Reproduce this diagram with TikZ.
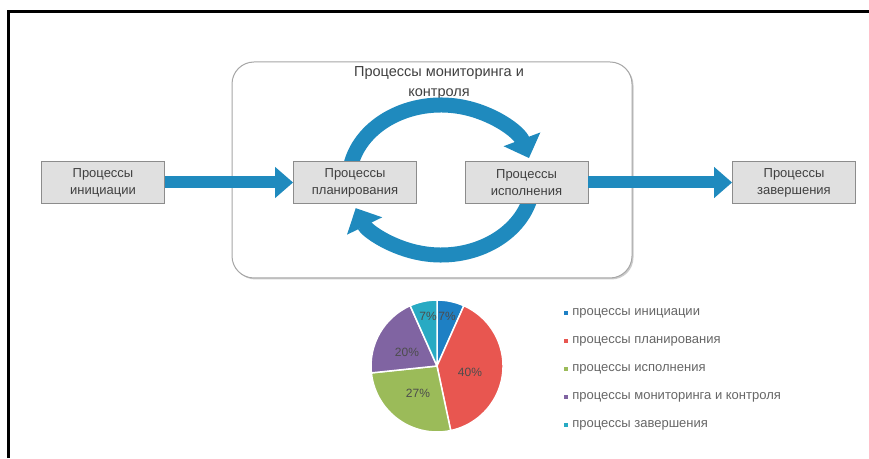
\documentclass[tikz,border=0pt]{standalone}
\usepackage{fontspec}
\setmainfont{Liberation Sans}
\usetikzlibrary{arrows.meta,calc,positioning}

\definecolor{flowblue}{RGB}{31,138,190}
\definecolor{pieblue}{RGB}{30,128,196}
\definecolor{piered}{RGB}{232,86,80}
\definecolor{piegreen}{RGB}{155,187,89}
\definecolor{piepurple}{RGB}{128,100,162}
\definecolor{piecyan}{RGB}{40,170,195}

\begin{document}
\begin{tikzpicture}[x=1pt,y=1pt,
	procbox/.style={draw=black!45, fill=black!12, line width=0.8pt, minimum width=123pt, minimum height=42pt, inner sep=0pt, align=center, text=black!75, font=\fontsize{13}{17}\selectfont},
	flowarrow/.style={flowblue, line width=12pt, -{Triangle[width=30pt,length=18pt]}},
	looparrow/.style={flowblue, line width=15pt, -{Triangle[width=38pt,length=20pt]}},
	slice/.style={draw=white, line width=1.5pt},
	pielabel/.style={text=black!70, font=\fontsize{12}{14}\selectfont},
	legbullet/.style={minimum size=4pt, inner sep=0pt},
	legtext/.style={text=black!60, font=\fontsize{13}{15}\selectfont, inner sep=0pt}
	]
			%%%%% START %%%%%
			\useasboundingbox (0,0) rectangle (869,458);
			\fill[white] (0,0) rectangle (869,458);
			
			% frame
			\draw[line width=3pt] (8.5,0) -- (8.5,446.5) -- (869,446.5);
			
			% monitoring block
			\fill[black!20, rounded corners=22pt] (233.5,178.5) rectangle (633.5,394.5);
			\draw[black!35, fill=white, line width=1pt, rounded corners=22pt] (232,180) rectangle (632,396);
			\node[align=center, text=black!75, font=\fontsize{14.5}{20}\selectfont] (title) at (439,375) {Процессы мониторинга и\\контроля};
			
			\coordinate (loopc) at (441,278);
			\draw[looparrow] ($(loopc)+(168:92 and 75)$) arc[start angle=168, end angle=17, x radius=92, y radius=75];
			\draw[looparrow] ($(loopc)+(-12:92 and 75)$) arc[start angle=-12, end angle=-158, x radius=92, y radius=75];
			
			% process boxes
			\node[procbox] (init) at (103,275.5) {Процессы\\инициации};
			\node[procbox] (plan) at (355,275.5) {Процессы\\планирования};
			\node[procbox] (exec) at (526.5,275.5) {Процессы\\исполнения};
			\node[procbox] (close) at (794,275.5) {Процессы\\завершения};
			
			\draw[flowarrow] (init) -- (plan);
			\draw[flowarrow] (exec) -- (close);
			
			% pie
			\coordinate (piec) at (437,92);
			\path[slice, fill=pieblue] (piec) -- ++(90:66) arc[start angle=90, end angle=66, radius=66] -- cycle;
			\path[slice, fill=piered] (piec) -- ++(66:66) arc[start angle=66, end angle=-78, radius=66] -- cycle;
			\path[slice, fill=piegreen] (piec) -- ++(-78:66) arc[start angle=-78, end angle=-174, radius=66] -- cycle;
			\path[slice, fill=piepurple] (piec) -- ++(186:66) arc[start angle=186, end angle=114, radius=66] -- cycle;
			\path[slice, fill=piecyan] (piec) -- ++(114:66) arc[start angle=114, end angle=90, radius=66] -- cycle;
			
			\node[pielabel] (p1) at (447,142) {7\%};
			\node[pielabel] (p5) at (428,142) {7\%};
			\node[pielabel] (p4) at (407,106) {20\%};
			\node[pielabel] (p2) at (470,86) {40\%};
			\node[pielabel] (p3) at (418,65) {27\%};
			
			% legend
			\node[legbullet, fill=pieblue] (b1) at (566,145) {};
			\node[legtext, right=4pt of b1] (l1) {процессы инициации};
			\node[legbullet, fill=piered] (b2) at (566,117) {};
			\node[legtext, right=4pt of b2] (l2) {процессы планирования};
			\node[legbullet, fill=piegreen] (b3) at (566,89) {};
			\node[legtext, right=4pt of b3] (l3) {процессы исполнения};
			\node[legbullet, fill=piepurple] (b4) at (566,61) {};
			\node[legtext, right=4pt of b4] (l4) {процессы мониторинга и контроля};
			\node[legbullet, fill=piecyan] (b5) at (566,33) {};
			\node[legtext, right=4pt of b5] (l5) {процессы завершения};
			
			%%%%% END %%%%%
\end{tikzpicture}
\end{document}
